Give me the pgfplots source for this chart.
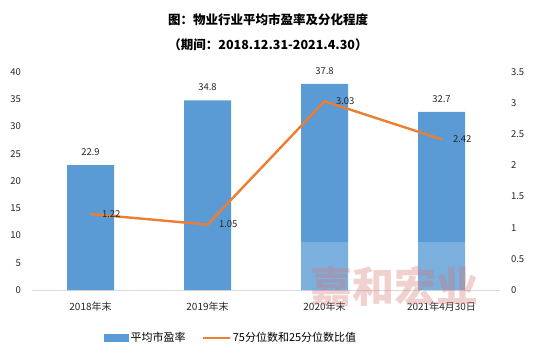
\documentclass[border=0pt]{standalone}
\usepackage{pgfplots}
\pgfplotsset{compat=1.18}
\usepackage{fontspec}
\setmainfont{Noto Sans CJK SC}
\definecolor{barblue}{HTML}{5B9BD5}
\definecolor{lineor}{HTML}{ED7D31}
\definecolor{axgray}{HTML}{D9D9D9}
\definecolor{wmark}{RGB}{215,120,120}
\begin{document}
\begin{tikzpicture}
\path[use as bounding box] (-32pt,-67pt) rectangle (503pt,290pt);
\begin{axis}[
  at={(0pt,0pt)}, anchor=south west,
  scale only axis, width=468pt, height=218pt,
  xmin=-0.5, xmax=3.5, ymin=0, ymax=40,
  ytick={0,5,...,40},
  xtick={0,1,2,3},
  xticklabels={2018年末,2019年末,2020年末,2021年4月30日},
  axis y line*=left, axis x line*=bottom,
  y axis line style={draw=none},
  x axis line style={draw=axgray, line width=0.8pt},
  major tick length=0pt,
  tick label style={font=\fontsize{9.5}{11}\selectfont, text=black!85},
  yticklabel style={xshift=-7.5pt},
  xticklabel style={yshift=-9pt, font=\fontsize{10}{12}\selectfont},
  /pgf/number format/assume math mode=true,
  legend style={at={(rel axis cs:0.425,0)}, yshift=-48pt, anchor=center, draw=none,
    font=\fontsize{11}{12}\selectfont, legend columns=2,
    /tikz/every even column/.append style={column sep=14pt}},
  legend cell align=left,
  nodes near coords,
  every node near coord/.append style={font=\fontsize{9.5}{11}\selectfont, text=black!85, yshift=6pt},
]
\addplot[ybar, bar width=47pt, fill=barblue, draw=none,
  area legend, legend image code/.code={\fill[barblue] (0pt,-4pt) rectangle (25pt,4pt);}]
  coordinates {(0,22.9) (1,34.8) (2,37.8) (3,32.7)};
\addlegendentry{平均市盈率}
\addlegendimage{line width=2.2pt, color=lineor, legend image code/.code={\draw[line width=2.2pt, lineor] (0pt,0pt) -- (27pt,0pt);}}
\addlegendentry{75分位数和25分位数比值}
\end{axis}
\begin{axis}[
  at={(0pt,0pt)}, anchor=south west,
  scale only axis, width=468pt, height=218pt,
  xmin=-0.5, xmax=3.5, ymin=0, ymax=3.5,
  ytick={0,0.5,...,3.5},
  axis y line*=right, axis x line=none,
  y axis line style={draw=none},
  major tick length=0pt,
  tick label style={font=\fontsize{9.5}{11}\selectfont, text=black!85},
  yticklabel style={xshift=7.5pt},
  /pgf/number format/assume math mode=true,
]
\addplot[color=lineor, line width=2.4pt, mark=none, nodes near coords,
  point meta=explicit symbolic,
  every node near coord/.append style={font=\fontsize{9.5}{11}\selectfont, text=black!85, anchor=west, xshift=7pt}]
  table[meta=label] {
x y label
0 1.22 1.22
1 1.05 1.05
2 3.03 3.03
3 2.42 2.42
};
\end{axis}
\fill[white, opacity=0.2] (268pt,0pt) rectangle (438pt,48pt);
\node[text=wmark, opacity=0.35, font=\fontsize{42}{42}\selectfont\bfseries] at (362pt,4pt) {嘉和宏业};
\node[font=\fontsize{12.5}{14}\selectfont\bfseries] at (236pt,270pt) {图：物业行业平均市盈率及分化程度};
\node[font=\fontsize{12.5}{14}\selectfont\bfseries] at (236pt,245pt) {（期间：2018.12.31-2021.4.30）};
\end{tikzpicture}
\end{document}
